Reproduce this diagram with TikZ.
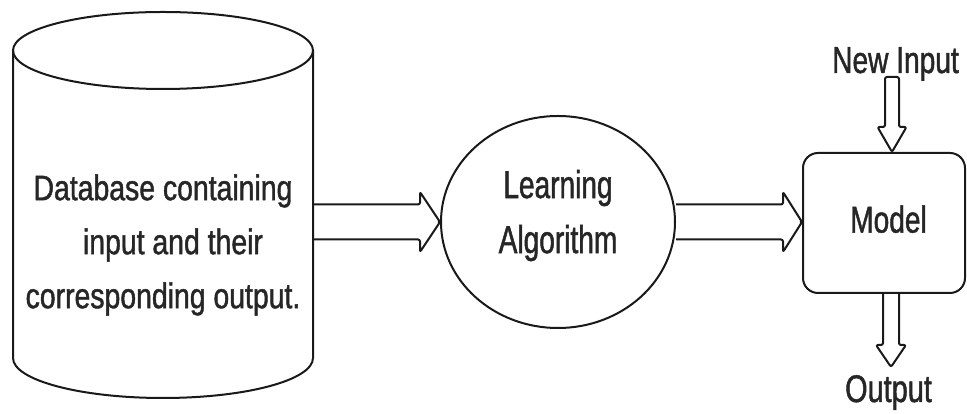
\documentclass[tikz,border=0pt]{standalone}
\usepackage{fontspec}
\setmainfont{Liberation Sans}
\newfontfamily\fnA{Liberation Sans}[FakeStretch=0.72,FakeBold=1.2]
\newfontfamily\fnB{Liberation Sans}[FakeStretch=0.75,FakeBold=1.2]
\newfontfamily\fnC{Liberation Sans}[FakeStretch=0.80,FakeBold=1.2]
\usetikzlibrary{shapes.geometric,calc}
\begin{document}
\begin{tikzpicture}[x=1pt,y=1pt,
  outline/.style={draw=black!90,line width=2pt},
  fatarrow/.style={draw=black!90,line width=2pt,rounded corners=2pt,line join=round},
  lbl/.style={inner sep=0pt,text=black!85}]
\useasboundingbox (0,0) rectangle (967,414);
% database cylinder
\draw[outline] (163,363.5) ellipse[x radius=150,y radius=38.5];
\draw[outline] (13,363.5) -- (13,56) arc[start angle=180,end angle=360,x radius=150,y radius=40] -- (313,363.5);
\coordinate (dbE) at (313,192);
\node[lbl,align=center,font=\fnC\fontsize{35.5}{54}\selectfont] (dbtext) at (163,169)
  {Database containing\\\hspace*{20pt}input and their\\corresponding output.};
% learning algorithm
\node[ellipse,outline,minimum width=234pt,minimum height=212pt,inner sep=0pt] (la) at (558,192) {};
\node[lbl,align=center,font=\fnA\fontsize{39}{55}\selectfont] (latext) at (558,198.5) {Learning\\Algorithm};
% model
\node[outline,rounded corners=15pt,minimum width=162pt,minimum height=140pt,inner sep=0pt,
  text depth=8pt,text=black!85,font=\fnB\fontsize{37.5}{40}\selectfont] (model) at (884,191) {\hspace*{9pt}Model};
\node[lbl,anchor=base,font=\fnB\fontsize{37.5}{40}\selectfont] (ni) at (895.5,341) {New Input};
\node[lbl,anchor=base,font=\fnB\fontsize{38.5}{40}\selectfont] (out) at (888.5,12) {Output};
\coordinate (niA) at (892,337);
\coordinate (outA) at (891,47);
% arrows
\draw[fatarrow] let \p1=(dbE), \p2=(la.west) in
  (\x1,\y1+17.5pt) -- (\x2-20pt,\y1+17.5pt) -- (\x2-20pt,\y1+30pt) -- (\x2,\y1)
  -- (\x2-20pt,\y1-30pt) -- (\x2-20pt,\y1-17.5pt) -- (\x1,\y1-17.5pt);
\draw[fatarrow] let \p1=(la.east), \p2=(model.west) in
  (\x1,\y1+17.5pt) -- (\x2-19pt,\y1+17.5pt) -- (\x2-19pt,\y1+30pt) -- (\x2,\y1)
  -- (\x2-19pt,\y1-30pt) -- (\x2-19pt,\y1-17.5pt) -- (\x1,\y1-17.5pt);
\draw[fatarrow] let \p1=(niA), \p2=(model.north) in
  (\x1-7pt,\y2+25pt) -- (\x1-7pt,\y1) -- (\x1+7pt,\y1) -- (\x1+7pt,\y2+25pt)
  -- (\x1+14.5pt,\y2+25pt) -- (\x1,\y2) -- (\x1-14.5pt,\y2+25pt) -- cycle;
\draw[fatarrow] let \p1=(model.south), \p2=(outA) in
  (\x2-8pt,\y1) -- (\x2-8pt,\y2+22pt) -- (\x2-15pt,\y2+22pt) -- (\x2,\y2)
  -- (\x2+15pt,\y2+22pt) -- (\x2+8pt,\y2+22pt) -- (\x2+8pt,\y1);
\end{tikzpicture}
\end{document}
